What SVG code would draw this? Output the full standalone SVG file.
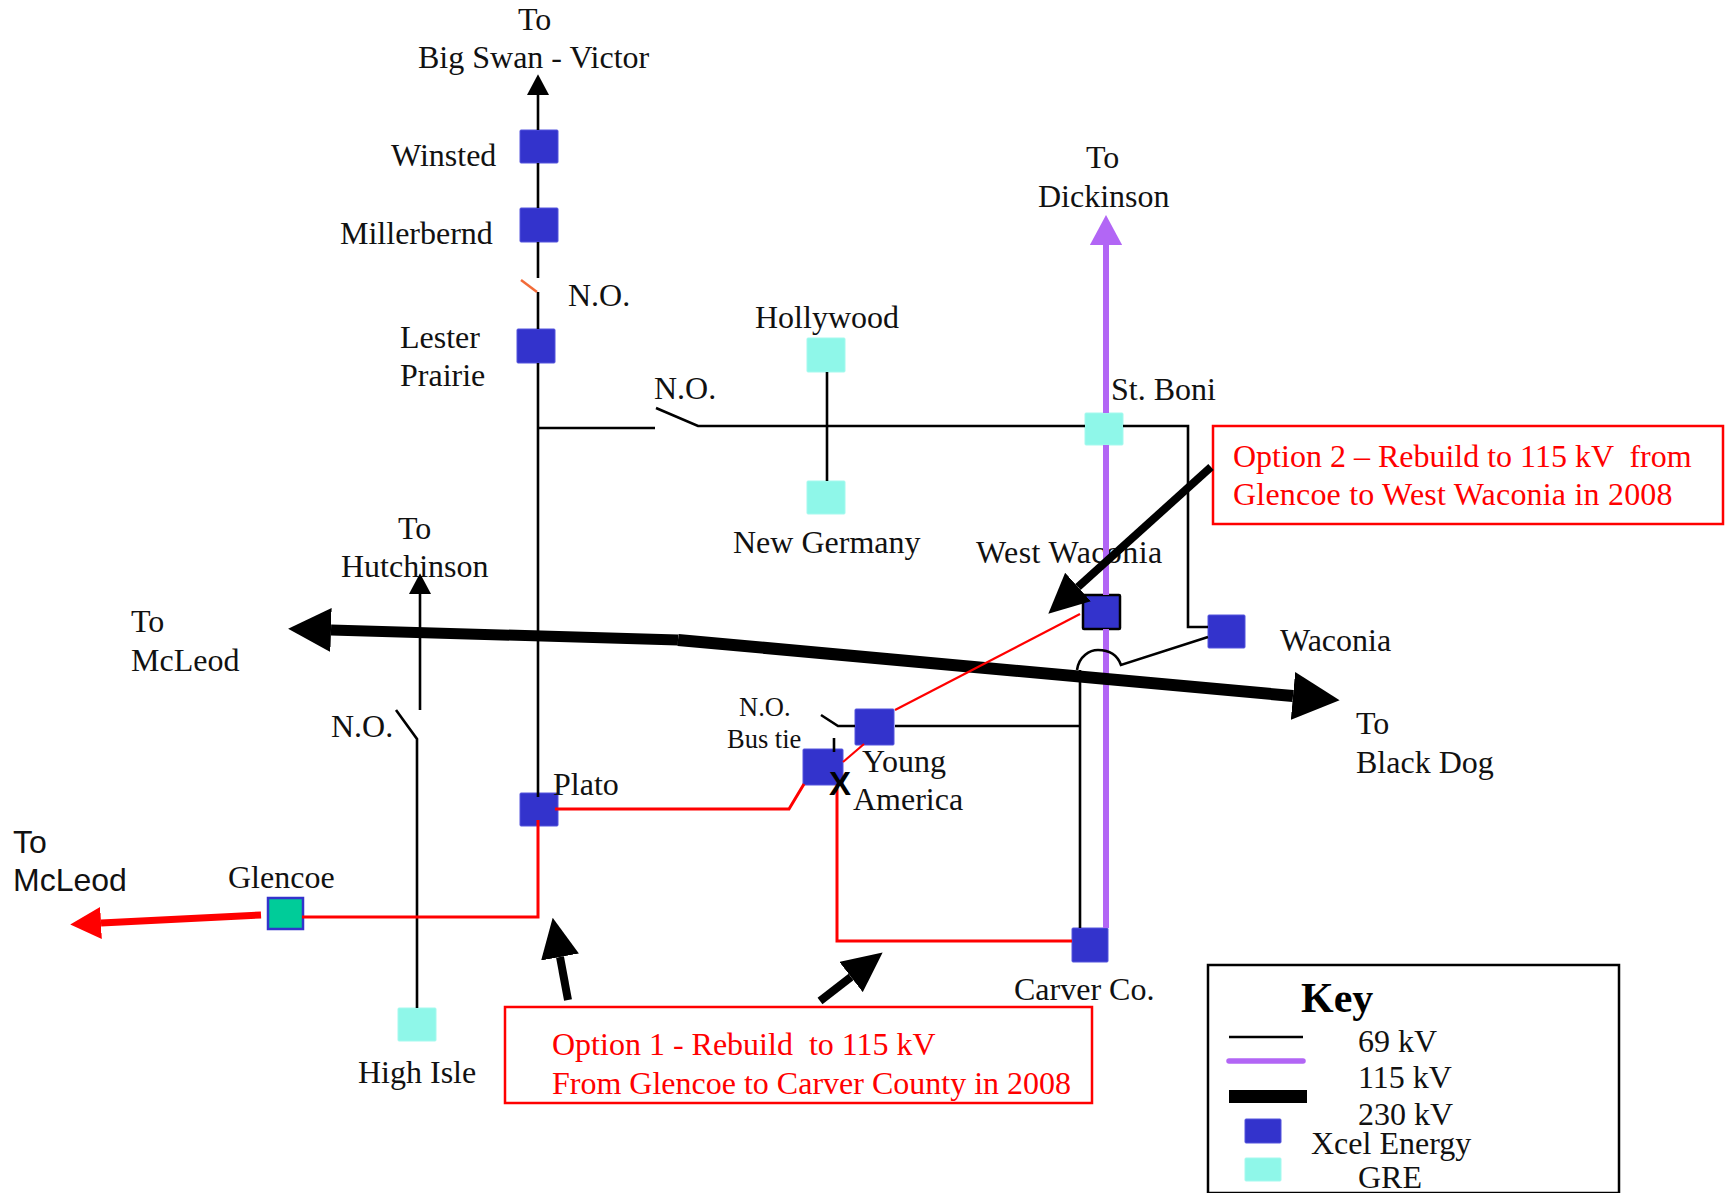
<svg xmlns="http://www.w3.org/2000/svg" width="1731" height="1193" viewBox="0 0 1731 1193">
<style>
text{font-family:"Liberation Serif","Times New Roman",serif;font-size:32px;fill:#111}
text.sans{font-family:"Liberation Sans",Arial,sans-serif}
text.red{fill:#f00}
text.key{font-weight:bold;font-size:42px;fill:#000}
text.small{font-size:26.5px}
.x{fill:#3333cc;stroke:#5555dd;stroke-width:1}
.g{fill:#8ff7e9;stroke:#a5f9ee;stroke-width:1}
.c{fill:none;stroke:#000;stroke-width:2.6}
.p{fill:none;stroke:#b266f5;stroke-width:6}
.t{fill:none;stroke:#000}
.r{fill:none;stroke:#f00;stroke-width:3}
.b{fill:#fff;stroke:#f00;stroke-width:2.5}
</style>
<defs>
<marker id="mThin" viewBox="0 0 10 10" refX="0" refY="5" markerWidth="8" markerHeight="8.5" orient="auto" preserveAspectRatio="none"><path d="M0 0L10 5L0 10Z" fill="#000"/></marker>
<marker id="mPurple" viewBox="0 0 10 10" refX="0" refY="5" markerWidth="5" markerHeight="5.4" orient="auto" preserveAspectRatio="none"><path d="M0 0L10 5L0 10Z" fill="#b266f5"/></marker>
<marker id="mThick" viewBox="0 0 10 10" refX="0" refY="5" markerWidth="3.9" markerHeight="4" orient="auto" preserveAspectRatio="none"><path d="M0 0L10 5L0 10Z" fill="#000"/></marker>
<marker id="mRed" viewBox="0 0 10 10" refX="0" refY="5" markerWidth="4.4" markerHeight="4.6" orient="auto" preserveAspectRatio="none"><path d="M0 0L10 5L0 10Z" fill="#f00"/></marker>
<marker id="mCall" viewBox="0 0 10 10" refX="0" refY="5" markerWidth="5" markerHeight="4.8" orient="auto" preserveAspectRatio="none"><path d="M0 0L10 5L0 10Z" fill="#000"/></marker>
</defs>

<g id="label-big-swan"><text x="518" y="30">To</text><text x="418" y="68">Big Swan - Victor</text></g>
<g id="node-winsted"><rect class="x" x="520" y="130" width="38" height="33" rx="1"/><text x="391" y="166">Winsted</text></g>
<g id="node-millerbernd"><rect class="x" x="520" y="208" width="38" height="34" rx="1"/><text x="340" y="244">Millerbernd</text></g>
<g id="label-no-1"><text x="568" y="306">N.O.</text></g>
<g id="node-lester-prairie"><rect class="x" x="517" y="329" width="38" height="34" rx="1"/><text x="400" y="348">Lester</text><text x="400" y="386">Prairie</text></g>
<g id="label-no-2"><text x="654" y="399">N.O.</text></g>
<g id="node-hollywood"><rect class="g" x="807" y="338" width="38" height="34" rx="1"/><text x="755" y="328">Hollywood</text></g>
<g id="node-new-germany"><rect class="g" x="807" y="481" width="38" height="33" rx="1"/><text x="733" y="553">New Germany</text></g>
<g id="label-dickinson"><text x="1086" y="168">To</text><text x="1038" y="207">Dickinson</text></g>
<g id="node-st-boni"><rect class="g" x="1085" y="413" width="38" height="32" rx="1"/><text x="1111" y="400">St. Boni</text></g>
<g id="node-west-waconia"><rect x="1083" y="595" width="37" height="34" rx="1" fill="#3333cc" stroke="#000" stroke-width="2.5"/><text x="976" y="563" style="letter-spacing:.4px">West Waconia</text></g>
<g id="node-waconia"><rect class="x" x="1208" y="615" width="37" height="33" rx="1"/><text x="1280" y="651">Waconia</text></g>
<g id="label-hutchinson"><text x="398" y="539">To</text><text x="341" y="577">Hutchinson</text></g>
<g id="label-mcleod-1"><text x="131" y="632">To</text><text x="131" y="671">McLeod</text></g>
<g id="label-no-3"><text x="331" y="737">N.O.</text></g>
<g id="label-no-bus-tie"><text class="small" x="739" y="716">N.O.</text><text class="small" x="727" y="748">Bus tie</text></g>
<g id="node-young-america-a"><rect class="x" x="855" y="709" width="39" height="36" rx="1"/></g>
<g id="node-young-america-b"><rect class="x" x="803" y="749" width="40" height="36" rx="1"/><text x="862" y="772">Young</text><text x="853" y="810">America</text></g>
<g id="label-black-dog"><text x="1356" y="734">To</text><text x="1356" y="773">Black Dog</text></g>
<g id="node-plato"><rect class="x" x="520" y="793" width="38" height="33" rx="1"/><text x="553" y="795">Plato</text></g>
<g id="node-glencoe"><rect x="268" y="898" width="35" height="31" fill="#00cc99" stroke="#3333cc" stroke-width="2.5"/><text x="228" y="888">Glencoe</text></g>
<g id="label-mcleod-2"><text class="sans" x="13" y="853">To</text><text class="sans" x="13" y="891">McLeod</text></g>
<g id="node-high-isle"><rect class="g" x="398" y="1008" width="38" height="33" rx="1"/><text x="358" y="1083">High Isle</text></g>
<g id="node-carver"><rect class="x" x="1072" y="928" width="36" height="34" rx="1"/><text x="1014" y="1000">Carver Co.</text></g>

<g id="callout-option-1"><rect class="b" x="505" y="1007" width="587" height="96"/><text class="red" x="552" y="1055" xml:space="preserve">Option 1 - Rebuild  to 115 kV</text><text class="red" x="552" y="1094">From Glencoe to Carver County in 2008</text></g>
<g id="callout-option-2"><rect class="b" x="1213" y="426" width="510" height="98"/><text class="red" x="1233" y="467" xml:space="preserve">Option 2 – Rebuild to 115 kV  from</text><text class="red" x="1233" y="505" style="letter-spacing:.2px">Glencoe to West Waconia in 2008</text></g>

<g id="key">
<rect x="1208" y="965" width="411" height="228" fill="none" stroke="#000" stroke-width="2.5"/>
<text class="key" x="1301" y="1012">Key</text>
<line class="c" x1="1229" y1="1037" x2="1303" y2="1037"/>
<line x1="1229" y1="1061" x2="1303" y2="1061" stroke="#b266f5" stroke-width="5.5" stroke-linecap="round"/>
<rect x="1229" y="1090" width="78" height="13" fill="#000"/>
<rect class="x" x="1245" y="1119" width="36" height="24" rx="1"/>
<rect class="g" x="1245" y="1158" width="36" height="23" rx="1"/>
<text x="1358" y="1052">69 kV</text><text x="1358" y="1088">115 kV</text><text x="1358" y="1125">230 kV</text><text x="1311" y="1154">Xcel Energy</text><text x="1358" y="1188">GRE</text>
</g>

<g id="connectors">
<path class="p" d="M1106 413V245" marker-end="url(#mPurple)"/>
<path class="p" d="M1106 445V595M1106 629V928"/>
<path class="c" d="M538 130V95" marker-end="url(#mThin)"/>
<path class="c" d="M538 163V208M538 242V278M538 292V329M538 363V797"/>
<path d="M521 280L537 292" fill="none" stroke="#f26b38" stroke-width="2.5"/>
<path class="c" d="M538 428H655M656 408L698 426H1085M1123 426H1188V627H1208"/>
<path class="c" d="M827 372V481"/>
<path class="c" d="M420 710V594" marker-end="url(#mThin)"/>
<path class="c" d="M396 710L417 739V1008"/>
<path class="c" d="M821 715L838 726H855M895 726H1080M1080 670V928M1077 670C1079 656 1090 650 1098 650C1108 650 1117 654 1121 665L1208 637"/>
<path class="c" d="M834 738V752"/>
<path class="t" d="M678 640L1293 696" stroke-width="12" marker-end="url(#mThick)"/>
<path class="t" d="M678 640L331 630" stroke-width="11" marker-end="url(#mThick)"/>
<path class="r" d="M555 809H789L804 784"/>
<path class="r" d="M538 820V917H302"/>
<path class="r" d="M843 762L864 744" style="stroke-width:2.2"/>
<path class="r" d="M895 710L1080 614" style="stroke-width:2.2"/>
<path class="r" d="M837 785V941H1072"/>
<path d="M261 915L101 923" fill="none" stroke="#f00" stroke-width="7" marker-end="url(#mRed)"/>
<path class="t" d="M568 1000L560 957" stroke-width="8" marker-end="url(#mCall)"/>
<path class="t" d="M820 1001L851 977" stroke-width="8" marker-end="url(#mCall)"/>
<path class="t" d="M1211 467L1078 587" stroke-width="8" marker-end="url(#mCall)"/>
<text x="829" y="795" style="font-family:'Liberation Sans',Arial,sans-serif;font-weight:bold;font-size:33px;fill:#000">X</text>
</g>
</svg>
